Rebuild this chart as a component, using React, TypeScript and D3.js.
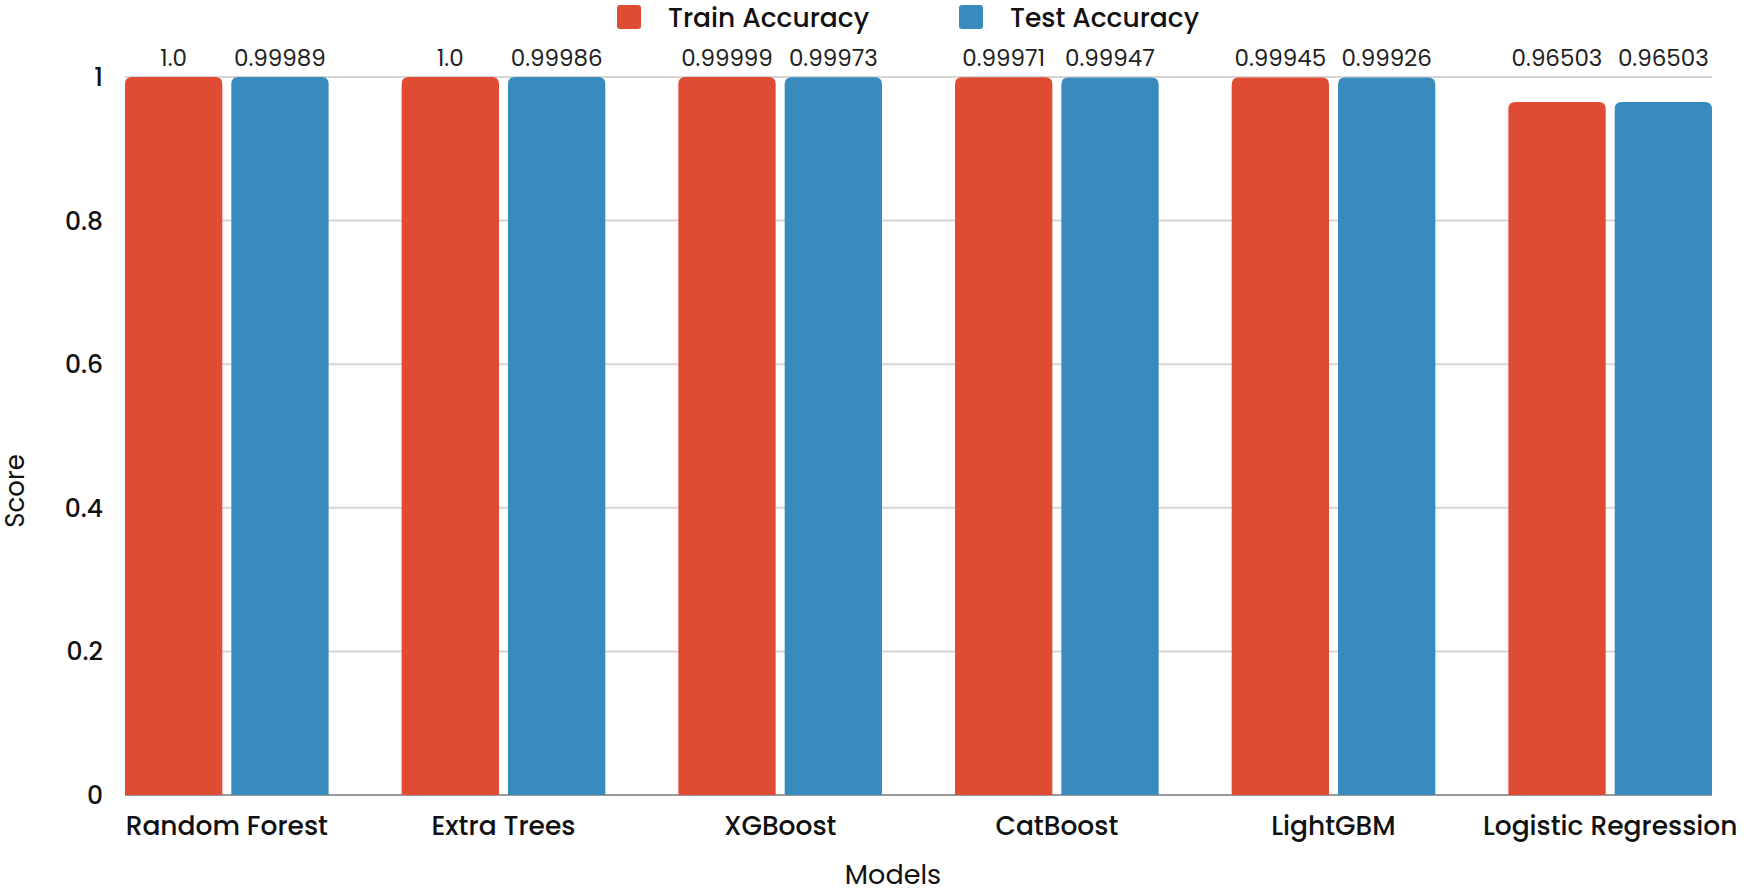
import { useEffect, useRef } from "react";
import * as d3 from "d3";

const models = ["Random Forest", "Extra Trees", "XGBoost", "CatBoost", "LightGBM", "Logistic Regression"];
const trainAcc = [1.0, 1.0, 0.99999, 0.99971, 0.99945, 0.96503];
const testAcc = [0.99989, 0.99986, 0.99973, 0.99947, 0.99926, 0.96503];
const trainLabels = ["1.0", "1.0", "0.99999", "0.99971", "0.99945", "0.96503"];
const testLabels = ["0.99989", "0.99986", "0.99973", "0.99947", "0.99926", "0.96503"];
const yTicks = [0, 0.2, 0.4, 0.6, 0.8, 1];
const seriesNames = ["Train Accuracy", "Test Accuracy"];

const COLORS = {
  train: "#E04B34",
  test: "#3A8BBD",
  grid: "#d6d6d6",
  base: "#9a9a9a",
  text: "#111111",
  label: "#222222",
};

const W = 1750;
const H = 891;
const FONT = "Poppins, Inter, 'Noto Sans', sans-serif";

// path for a bar with only the top corners rounded
function topRounded(x: number, y: number, w: number, h: number, r: number) {
  const rr = Math.min(r, w / 2, h);
  return `M${x},${y + h}V${y + rr}Q${x},${y} ${x + rr},${y}H${x + w - rr}Q${x + w},${y} ${x + w},${y + rr}V${y + h}Z`;
}

export default function App() {
  const svgRef = useRef<SVGSVGElement>(null);

  useEffect(() => {
    if (!svgRef.current) return;
    const svg = d3.select(svgRef.current);
    svg.selectAll("*").remove();

    const x0 = 125;
    const x1 = 1712;
    const yTop = 77;
    const yBottom = 795;

    const xScale = d3.scaleBand<string>().domain(models).range([x0, x1]).paddingInner(0.264).paddingOuter(0);
    const yScale = d3.scaleLinear().domain([0, 1]).range([yBottom, yTop]);
    const bw = xScale.bandwidth();
    const gap = 9;
    const barW = (bw - gap) / 2;

    svg.append("defs").append("clipPath").attr("id", "clip")
      .append("rect").attr("x", 0).attr("y", 0).attr("width", 1738).attr("height", H);

    const root = svg.append("g").attr("clip-path", "url(#clip)");

    // grid
    root.selectAll("line.grid")
      .data(yTicks.filter((t) => t > 0))
      .join("line")
      .attr("class", "grid")
      .attr("x1", x0)
      .attr("x2", x1)
      .attr("y1", (d) => yScale(d))
      .attr("y2", (d) => yScale(d))
      .attr("stroke", COLORS.grid)
      .attr("stroke-width", 2);

    // baseline
    root.append("line")
      .attr("x1", x0).attr("x2", x1)
      .attr("y1", yScale(0)).attr("y2", yScale(0))
      .attr("stroke", COLORS.base)
      .attr("stroke-width", 2);

    // y tick labels
    root.selectAll("text.ytick")
      .data(yTicks)
      .join("text")
      .attr("class", "ytick")
      .attr("x", 103)
      .attr("y", (d) => yScale(d))
      .attr("dy", "0.36em")
      .attr("text-anchor", "end")
      .attr("font-family", FONT)
      .attr("font-size", 25)
      .attr("font-weight", 500)
      .attr("fill", COLORS.text)
      .text((d) => (d === 0 || d === 1 ? String(d) : d.toFixed(1)));

    // bars
    const groups = root.selectAll("g.model")
      .data(models)
      .join("g")
      .attr("class", "model");

    groups.each(function (m, i) {
      const g = d3.select(this);
      const bx = xScale(m) ?? 0;
      const series = [
        { v: trainAcc[i], label: trainLabels[i], color: COLORS.train, x: bx },
        { v: testAcc[i], label: testLabels[i], color: COLORS.test, x: bx + barW + gap },
      ];
      series.forEach((s) => {
        const y = yScale(s.v);
        g.append("path")
          .attr("d", topRounded(s.x, y, barW, yScale(0) - y, 7))
          .attr("fill", s.color);
        g.append("text")
          .attr("x", s.x + barW / 2)
          .attr("y", 66)
          .attr("text-anchor", "middle")
          .attr("font-family", FONT)
          .attr("font-size", 23)
          .attr("fill", COLORS.label)
          .text(s.label);
      });
      g.append("text")
        .attr("x", bx + bw / 2)
        .attr("y", 835)
        .attr("text-anchor", "middle")
        .attr("font-family", FONT)
        .attr("font-size", 26.5)
        .attr("font-weight", 500)
        .attr("fill", COLORS.text)
        .text(m);
    });

    // axis titles
    root.append("text")
      .attr("transform", `translate(24,491) rotate(-90)`)
      .attr("text-anchor", "middle")
      .attr("font-family", FONT)
      .attr("font-size", 26)
      .attr("fill", COLORS.text)
      .text("Score");

    root.append("text")
      .attr("x", 893)
      .attr("y", 884)
      .attr("text-anchor", "middle")
      .attr("font-family", FONT)
      .attr("font-size", 27)
      .attr("fill", COLORS.text)
      .text("Models");

    // legend
    const legendX = [617, 959];
    const legendColors = [COLORS.train, COLORS.test];
    seriesNames.forEach((name, i) => {
      root.append("rect")
        .attr("x", legendX[i]).attr("y", 5)
        .attr("width", 24).attr("height", 24)
        .attr("rx", 3)
        .attr("fill", legendColors[i]);
      root.append("text")
        .attr("x", legendX[i] + 51)
        .attr("y", 27)
        .attr("font-family", FONT)
        .attr("font-size", 26.5)
        .attr("font-weight", 500)
        .attr("fill", COLORS.text)
        .text(name);
    });
  }, []);

  return (
    <div style={{ position: "absolute", left: 0, top: 0, width: W, height: H, background: "#fff" }}>
      <svg ref={svgRef} width={W} height={H} style={{ display: "block" }} />
    </div>
  );
}
